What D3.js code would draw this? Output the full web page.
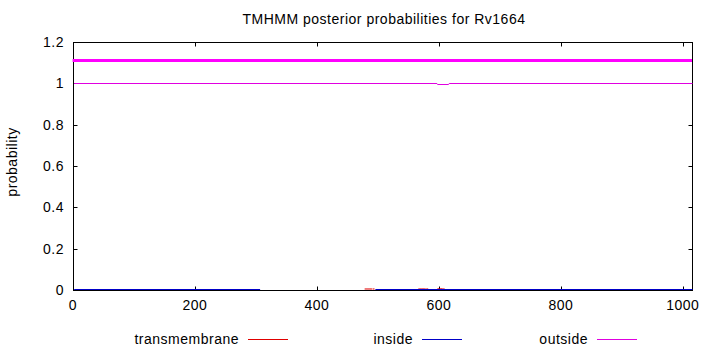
<!DOCTYPE html>
<html>
<head>
  <title>TMHMM posterior probabilities for Rv1664</title>
  <meta charset="utf-8">
  <script src="https://d3js.org/d3.v7.min.js"></script>
  <style>
    body { margin: 0; background: #fff; }
    text { font-family: "Liberation Sans", Arial, sans-serif; font-size: 14px; fill: #000; letter-spacing: 0.5px; }
  </style>
</head>
<body>
<script type="text/javascript">
  "use strict";

  // sequence length (x axis end)
  var seqLength = 1015;

  // outside probability (thin magenta line)
  var outsidePos = [1, 596, 597, 615, 616, 1015];
  var outsideVal = [1, 1, 0.995, 0.995, 1, 1];

  // inside probability (blue line), null = not visible
  var insidePos = [1, 306, 307, 494, 495, 1015];
  var insideVal = [0, 0, null, null, 0, 0];

  // transmembrane probability, drawn as impulses
  var tmPos = [479, 482, 485, 488, 492, 567, 570, 573, 576, 580, 598, 600, 602, 604, 607];
  var tmVal = [0.005, 0.005, 0.005, 0.005, 0.005, 0.005, 0.005, 0.005, 0.005, 0.005, 0.005, 0.005, 0.005, 0.005, 0.005];

  // predicted topology bar on top
  var topoStart = [1];
  var topoEnd = [1015];
  var topoLabel = ["outside"];
  var topoLevel = 1.11;

  var xTicks = [0, 200, 400, 600, 800, 1000];
  var yTicks = [0, 0.2, 0.4, 0.6, 0.8, 1, 1.2];

  var legendNames = ["transmembrane", "inside", "outside"];
  var colors = { transmembrane: "#e00000", inside: "#0000c8", outside: "#e000e0" };

  function draw() {
    var width = 710, height = 350;
    var pl = 73, pr = 692, pt = 42, pb = 290;

    var svg = d3.select("body")
      .append("svg")
        .attr("width", width)
        .attr("height", height);

    var x = d3.scaleLinear().domain([0, seqLength]).range([pl, pr]);
    var y = d3.scaleLinear().domain([0, 1.2]).range([pb, pt]);

    var g = svg.append("g").attr("transform", "translate(0.5,0.5)");

    // title
    svg.append("text")
      .attr("x", 384)
      .attr("y", 24)
      .attr("text-anchor", "middle")
      .text("TMHMM posterior probabilities for Rv1664");

    // y axis label
    svg.append("text")
      .attr("transform", "translate(17," + ((pt + pb) / 2 - 4) + ") rotate(-90)")
      .attr("text-anchor", "middle")
      .text("probability");

    // frame
    g.append("rect")
      .attr("x", pl).attr("y", pt)
      .attr("width", pr - pl).attr("height", pb - pt)
      .attr("fill", "none").attr("stroke", "#000");

    // ticks (inward, mirrored)
    var tl = 4;
    g.selectAll(".xt").data(xTicks).enter().append("path")
      .attr("d", function (d) {
        var px = Math.round(x(d));
        return "M" + px + "," + pb + "v" + (-tl) + "M" + px + "," + pt + "v" + tl;
      })
      .attr("stroke", "#000");
    g.selectAll(".yt").data(yTicks).enter().append("path")
      .attr("d", function (d) {
        var py = Math.round(y(d));
        return "M" + pl + "," + py + "h" + tl + "M" + pr + "," + py + "h" + (-tl);
      })
      .attr("stroke", "#000");

    svg.selectAll(".xl").data(xTicks).enter().append("text")
      .attr("x", function (d) { return x(d); })
      .attr("y", 310)
      .attr("text-anchor", "middle")
      .text(function (d) { return d; });
    svg.selectAll(".yl").data(yTicks).enter().append("text")
      .attr("x", 64)
      .attr("y", function (d) { return y(d) + 5; })
      .attr("text-anchor", "end")
      .text(function (d) { return d3.format("~g")(d); });

    // transmembrane impulses
    g.selectAll(".tm").data(tmPos).enter().append("line")
      .attr("x1", function (d) { return x(d); })
      .attr("x2", function (d) { return x(d); })
      .attr("y1", y(0) - 1)
      .attr("y2", function (d, i) { return y(tmVal[i]) - 1; })
      .attr("stroke", colors.transmembrane)
      .attr("stroke-width", 2);

    // inside line
    var insideData = insidePos.map(function (p, i) { return [p, insideVal[i]]; });
    g.append("path")
      .datum(insideData)
      .attr("d", d3.line()
        .defined(function (d) { return d[1] !== null; })
        .x(function (d) { return x(d[0]); })
        .y(function (d) { return y(d[1]) - 1; }))
      .attr("fill", "none")
      .attr("stroke", colors.inside);

    // outside line
    var outsideData = outsidePos.map(function (p, i) { return [p, outsideVal[i]]; });
    g.append("path")
      .datum(outsideData)
      .attr("d", d3.line()
        .x(function (d) { return x(d[0]); })
        .y(function (d) { return Math.round(y(d[1])); }))
      .attr("fill", "none")
      .attr("stroke", colors.outside);

    // topology bar
    svg.selectAll(".topo").data(topoStart).enter().append("line")
      .attr("x1", function (d) { return x(d) - 1; })
      .attr("x2", function (d, i) { return x(topoEnd[i]); })
      .attr("y1", y(topoLevel))
      .attr("y2", y(topoLevel))
      .attr("stroke", "#ff00ff")
      .attr("stroke-width", 3);

    // legend
    var legX = [239, 413, 588];
    var leg = svg.selectAll(".leg").data(legendNames).enter().append("g");
    leg.append("text")
      .attr("x", function (d, i) { return legX[i]; })
      .attr("y", 344)
      .attr("text-anchor", "end")
      .text(function (d) { return d; });
    leg.append("line")
      .attr("x1", function (d, i) { return legX[i] + 9; })
      .attr("x2", function (d, i) { return legX[i] + 49; })
      .attr("y1", 339.5)
      .attr("y2", 339.5)
      .attr("stroke", function (d) { return colors[d]; });
  }

  draw();
</script>
</body>
</html>
